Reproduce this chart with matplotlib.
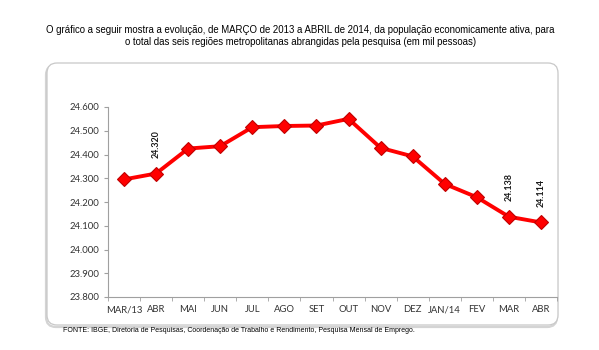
"""PEA nas seis regiões metropolitanas, MAR/2013 a ABR/2014."""
import matplotlib

matplotlib.use('Agg')
import matplotlib.pyplot as plt
from matplotlib.patches import FancyBboxPatch
from matplotlib.ticker import FixedLocator, FuncFormatter
from matplotlib.transforms import IdentityTransform

months = ['MAR/13', 'ABR', 'MAI', 'JUN', 'JUL', 'AGO', 'SET', 'OUT',
          'NOV', 'DEZ', 'JAN/14', 'FEV', 'MAR', 'ABR']
pea = [24.295, 24.320, 24.425, 24.435, 24.515, 24.520, 24.522, 24.550,
       24.428, 24.392, 24.276, 24.220, 24.138, 24.114]
labelled = [1, 12, 13]
yticks = [23.8, 23.9, 24.0, 24.1, 24.2, 24.3, 24.4, 24.5, 24.6]

title = ('O gráfico a seguir mostra a evolução, de MARÇO de 2013 a ABRIL de 2014, '
         'da população economicamente ativa, para\n'
         'o total das seis regiões metropolitanas abrangidas pela pesquisa (em mil pessoas)')
source = ('FONTE: IBGE, Diretoria de Pesquisas, Coordenação de Trabalho e Rendimento, '
          'Pesquisa Mensal de Emprego.')

arial = ['Liberation Sans', 'DejaVu Sans']
tickfont = ['Lato', 'DejaVu Sans']


def br(v, _=None):
    return f'{v:.3f}'


fig = plt.figure(figsize=(5.99, 3.5), dpi=100)

# rounded frame with a faint shadow (pixel coords), kept behind the axes
shadow = FancyBboxPatch((46, 23), 511, 262, boxstyle='round,pad=0,rounding_size=10',
                        transform=IdentityTransform(), fc='none', ec='#d4d4d4', lw=1.6,
                        zorder=-2)
frame = FancyBboxPatch((47, 25), 511, 262, boxstyle='round,pad=0,rounding_size=10',
                       transform=IdentityTransform(), fc='white', ec='#c8c8c8', lw=0.9,
                       zorder=-1)
fig.patches.extend([shadow, frame])

ax = fig.add_axes([108 / 599, 53 / 350, 449 / 599, 190 / 350])
ax.set_zorder(2)
ax.set_facecolor('none')
x = list(range(len(months)))
ax.plot(x, pea, color='#ff0000', lw=2.8, marker='D', ms=7,
        mfc='#ff0000', mec='#c00000', mew=0.8, solid_joinstyle='round', zorder=3)

for i in labelled:
    ax.annotate(br(pea[i]), xy=(x[i], pea[i]), xytext=(0, 11), textcoords='offset points',
                rotation=90, ha='center', va='bottom', fontsize=6.4, fontweight='bold',
                family=tickfont, color='#1a1a1a')

ax.set_xlim(-0.5, len(months) - 0.5)
ax.set_ylim(23.8, 24.6)
ax.set_yticks(yticks)
ax.yaxis.set_major_formatter(FuncFormatter(br))
ax.set_xticks(x)
ax.set_xticklabels(months)
ax.xaxis.set_minor_locator(FixedLocator([i + 0.5 for i in range(-1, len(months))]))
ax.tick_params(axis='x', which='major', length=0, pad=6, labelsize=6.8, labelcolor='#333333')
ax.tick_params(axis='x', which='minor', length=3, color='#a0a0a0')
ax.tick_params(axis='y', length=3, color='#a0a0a0', pad=3, labelsize=6.8, labelcolor='#333333')
for lab in ax.get_xticklabels() + ax.get_yticklabels():
    lab.set_family(tickfont)
for side in ('top', 'right'):
    ax.spines[side].set_visible(False)
for side in ('left', 'bottom'):
    ax.spines[side].set_color('#a0a0a0')
    ax.spines[side].set_linewidth(0.8)

fig.text(0.502, 1 - 36 / 350, title, ha='center', va='center', fontsize=6.9,
         family=arial, linespacing=1.35)
fig.text(63 / 599, 1 - 331 / 350, source, ha='left', va='center', fontsize=5.05,
         family=arial)

fig.savefig('out.png', dpi=100)
plt.close(fig)
